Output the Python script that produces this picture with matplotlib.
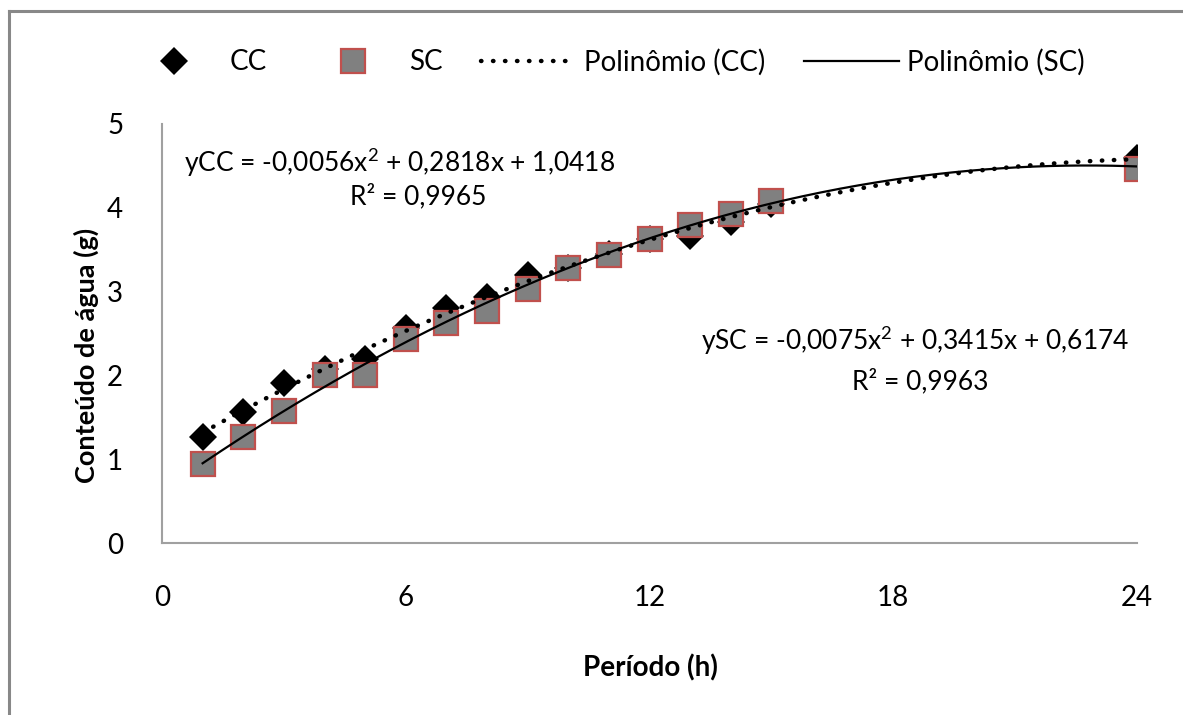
import numpy as np
import matplotlib
matplotlib.use("Agg")
import matplotlib.pyplot as plt
from matplotlib.lines import Line2D

# ---- data ----
hours = [1, 2, 3, 4, 5, 6, 7, 8, 9, 10, 11, 12, 13, 14, 15, 24]
cc_values = [1.27, 1.56, 1.91, 2.08, 2.20, 2.57, 2.81, 2.94, 3.20, 3.28, 3.45, 3.63, 3.66, 3.83, 4.04, 4.60]
sc_values = [0.94, 1.26, 1.57, 2.01, 2.00, 2.43, 2.63, 2.77, 3.03, 3.28, 3.44, 3.63, 3.80, 3.93, 4.08, 4.46]
cc_coef = [-0.0056, 0.2818, 1.0418]   # trendline y = a x^2 + b x + c
sc_coef = [-0.0075, 0.3415, 0.6174]
x_ticks = [0, 6, 12, 18, 24]
y_ticks = [0, 1, 2, 3, 4, 5]
cc_eq = "yCC = -0,0056x$^2$ + 0,2818x + 1,0418"
cc_r2 = "R² = 0,9965"
sc_eq = "ySC = -0,0075x$^2$ + 0,3415x + 0,6174"
sc_r2 = "R² = 0,9963"

plt.rcParams['font.family'] = ['Lato', 'DejaVu Sans']
plt.rcParams['mathtext.fontset'] = 'custom'
plt.rcParams['mathtext.rm'] = 'Lato'

W, H = 1183, 715
fig = plt.figure(figsize=(W / 100, H / 100), dpi=100)
fig.patch.set_facecolor('white')

# outer chart border (top and left visible)
fig.add_artist(Line2D([9 / W, 1.0], [1 - 11 / H, 1 - 11 / H], color='#888888', lw=2.2,
                      transform=fig.transFigure))
fig.add_artist(Line2D([9 / W, 9 / W], [0.0, 1 - 11 / H], color='#888888', lw=2.2,
                      transform=fig.transFigure))

left, right, bottom, top = 162, 1137, 543, 124
ax = fig.add_axes([left / W, 1 - bottom / H, (right - left) / W, (bottom - top) / H])

x = np.array(hours, dtype=float)
ax.plot(x, cc_values, linestyle='none', marker='D', markersize=14, color='black',
        markeredgewidth=0, zorder=3, label='CC')
ax.plot(x, sc_values, linestyle='none', marker='s', markersize=17.5, markerfacecolor='#808080',
        markeredgecolor='#C0504D', markeredgewidth=1.6, zorder=4, label='SC')

xs = np.linspace(1, 24, 300)
ax.plot(xs, np.polyval(cc_coef, xs), linestyle=(0, (0.1, 2.6)), dash_capstyle='round',
        color='black', lw=3.2, zorder=5, label='Polinômio (CC)')
ax.plot(xs, np.polyval(sc_coef, xs), linestyle='-', color='black', lw=1.6, zorder=5,
        label='Polinômio (SC)')

ax.set_xlim(0, 24)
ax.set_ylim(0, 5)
ax.set_xticks(x_ticks)
ax.set_yticks(y_ticks)
ax.tick_params(length=0, labelsize=20, colors='black')
ax.tick_params(axis='y', pad=28)
ax.tick_params(axis='x', pad=30)
for s in ['top', 'right']:
    ax.spines[s].set_visible(False)
for s in ['left', 'bottom']:
    ax.spines[s].set_color('#A0A0A0')
    ax.spines[s].set_linewidth(1.5)

ax.set_xlabel('Período (h)', fontsize=20, fontweight='bold', va='center')
ax.xaxis.set_label_coords((650 - left) / (right - left), -(668 - bottom) / (bottom - top))
ax.set_ylabel('Conteúdo de água (g)', fontsize=19.5, fontweight='bold', va='center')
ax.yaxis.set_label_coords(-(left - 86) / (right - left), (bottom - 355) / (bottom - top))

fig.text(400 / W, 1 - 162 / H, cc_eq, fontsize=19, ha='center', va='center')
fig.text(418 / W, 1 - 196 / H, cc_r2, fontsize=19, ha='center', va='center')
fig.text(915 / W, 1 - 340 / H, sc_eq, fontsize=19, ha='center', va='center')
fig.text(920 / W, 1 - 381 / H, sc_r2, fontsize=19, ha='center', va='center')

leg = fig.legend(loc='center', bbox_to_anchor=(606 / W, 1 - 62 / H), ncol=4, frameon=False,
                 fontsize=20, handlelength=3.4, handletextpad=0.3, columnspacing=1.4,
                 numpoints=1)

fig.savefig('out.png', dpi=100, facecolor='white')
